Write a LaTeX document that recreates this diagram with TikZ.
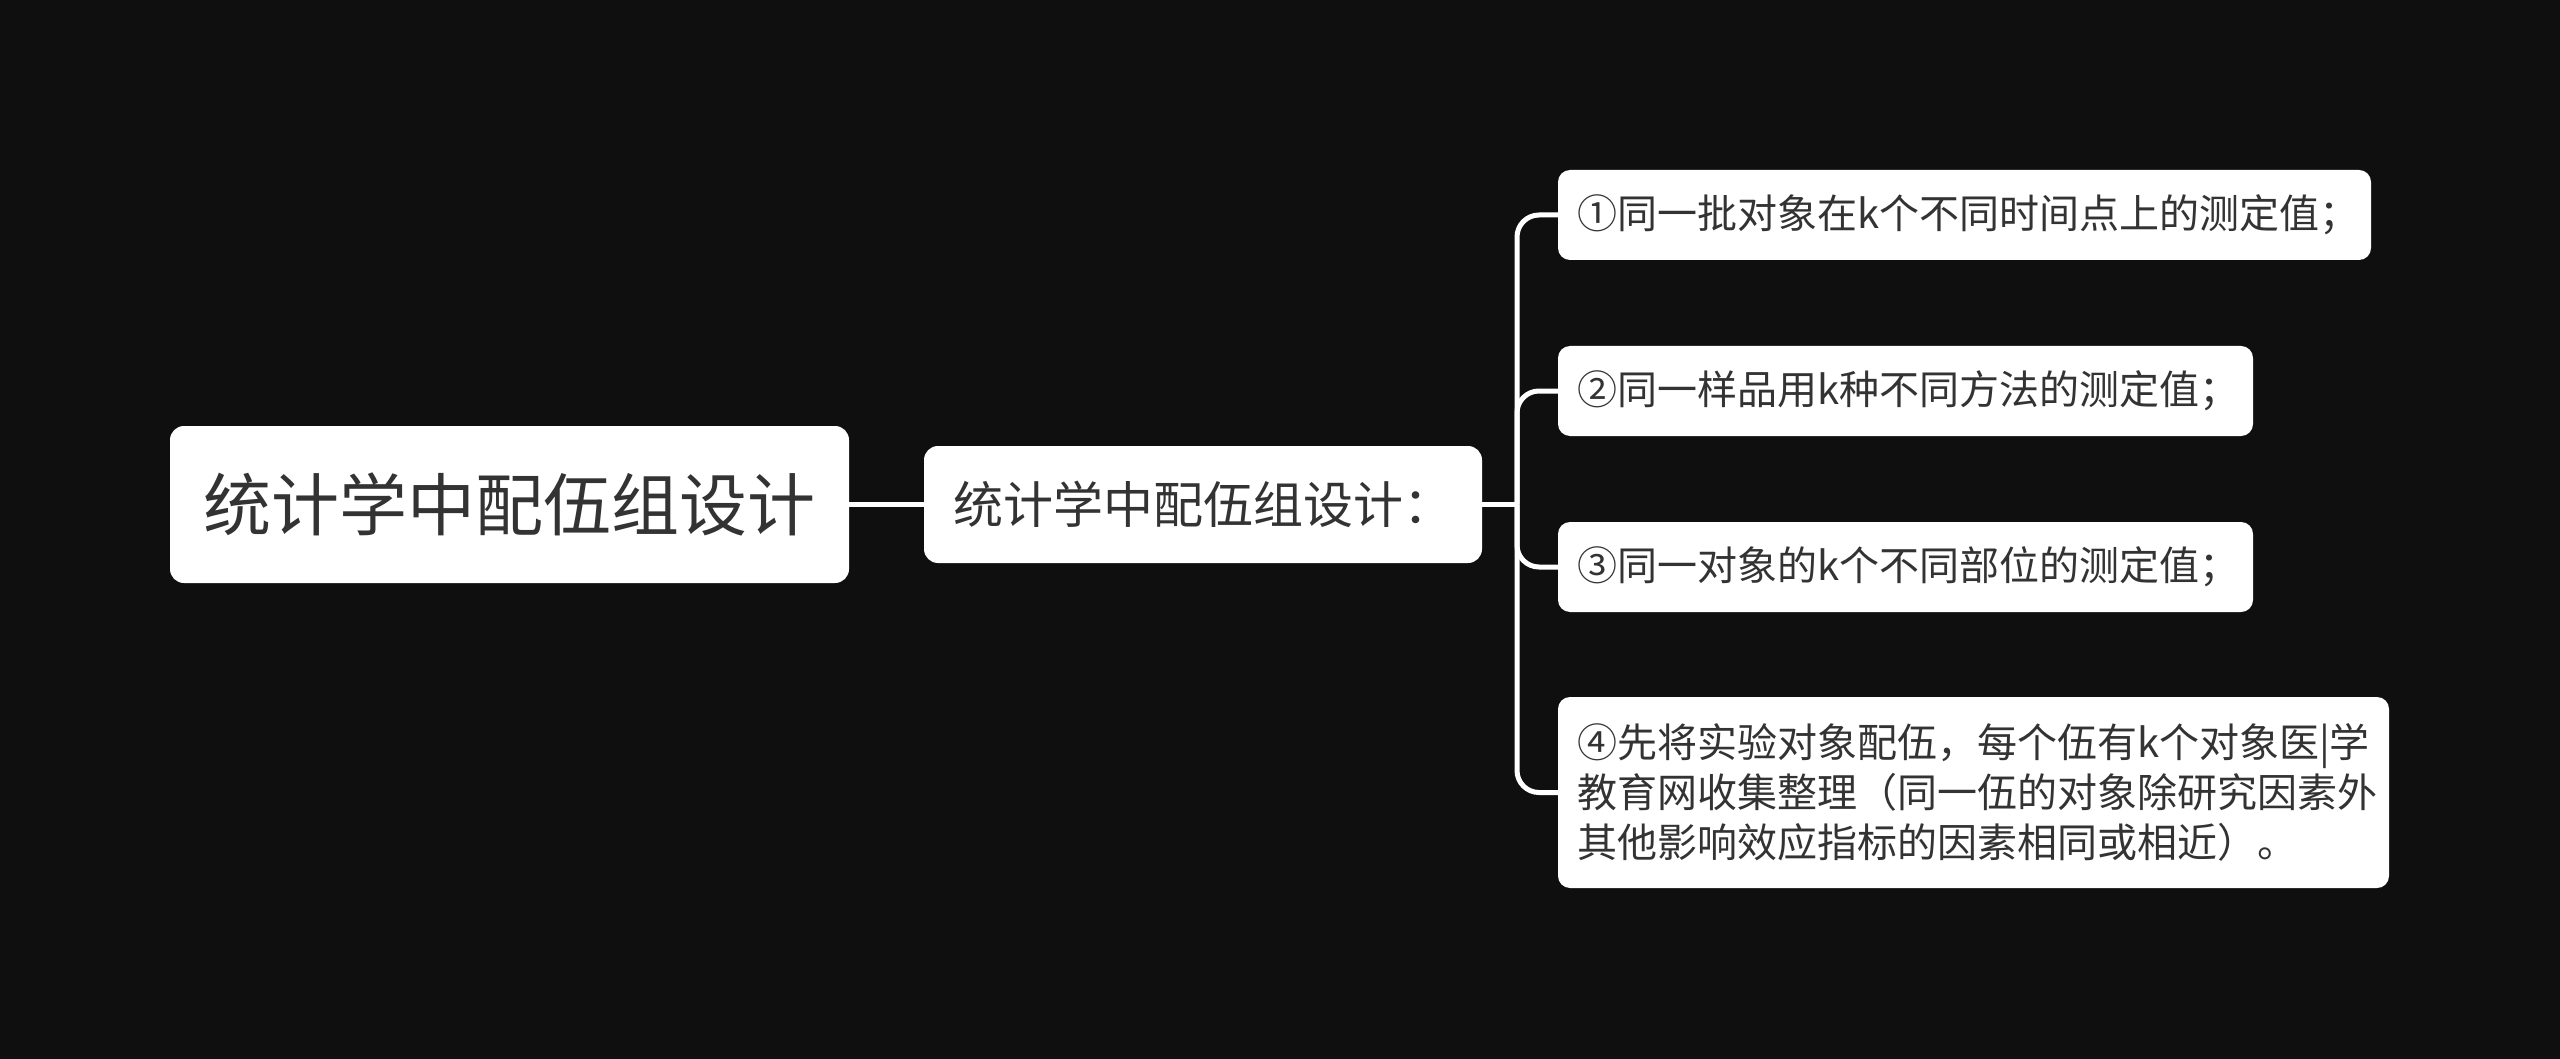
\documentclass[tikz,border=0pt]{standalone}
\usepackage{fontspec}
\newfontfamily\cjk{Noto Sans CJK SC}
\definecolor{bg}{HTML}{0F0F0F}
\definecolor{txt}{HTML}{333333}
\begin{document}
\begin{tikzpicture}[x=1pt,y=-1pt,
  box/.style={draw=none,fill=white,rounded corners=14pt,text=txt,font=\cjk,inner sep=0pt},
  leafbox/.style={box,rounded corners=12pt,align=left,inner xsep=19pt,inner ysep=0pt,font=\cjk\fontsize{40}{50}\selectfont},
  conn/.style={draw=white,line width=5pt}
]
\fill[bg] (0,0) rectangle (2560,1059);
\useasboundingbox (0,0) rectangle (2560,1059);

% nodes
\node[box,minimum width=679pt,minimum height=157pt,font=\cjk\fontsize{68}{68}\selectfont] (root) at (509.5,504.5) {统计学中配伍组设计};
\node[box,minimum width=558pt,minimum height=117pt,font=\cjk\fontsize{50}{50}\selectfont] (mid) at (1203,504.5) {统计学中配伍组设计：};

\node[leafbox,text width=775pt,minimum height=90pt] (l1) at (1964.5,215) {①同一批对象在k个不同时间点上的测定值；};
\node[leafbox,text width=657pt,minimum height=90pt] (l2) at (1905.5,391) {②同一样品用k种不同方法的测定值；};
\node[leafbox,text width=657pt,minimum height=90pt] (l3) at (1905.5,567) {③同一对象的k个不同部位的测定值；};
\node[leafbox,text width=793pt,minimum height=191pt] (l4) at (1973.5,792.5) {④先将实验对象配伍，每个伍有k个对象医|学\\教育网收集整理（同一伍的对象除研究因素外\\其他影响效应指标的因素相同或相近）。};

\coordinate (tr) at (1517,504.5);

% connectors
\draw[conn] (root.east) -- (mid.west);
\draw[conn] (mid.east) -- (tr);
\foreach \n in {l1,l2,l3,l4}{
  \draw[conn,rounded corners=22pt] (tr) |- (\n.west);
}
\end{tikzpicture}
\end{document}
